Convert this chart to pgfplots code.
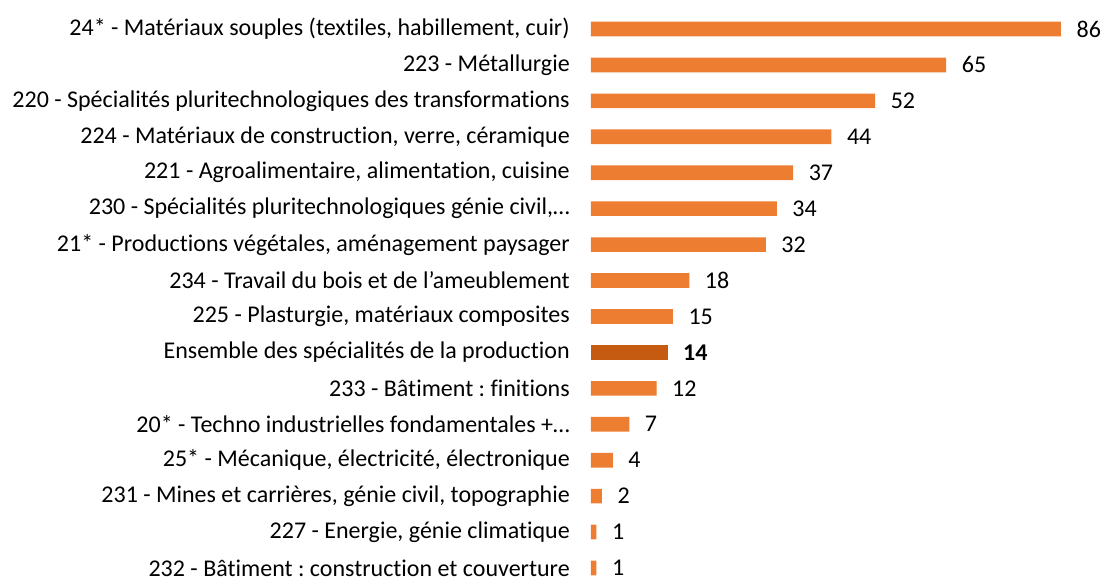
\documentclass[border=0pt]{standalone}
\usepackage{pgfplots}
\pgfplotsset{compat=1.18}
\usepackage{fontspec}
\setmainfont[Ligatures={NoCommon}]{Carlito}
\definecolor{barorange}{HTML}{ED7D31}
\definecolor{bardark}{HTML}{C55A11}
\frenchspacing
\begin{document}
\fontsize{18pt}{21pt}\selectfont
\begin{tikzpicture}
\begin{axis}[
  name=ax,
  scale only axis,
  width=352.5pt, height=432.75pt,
  xbar, bar shift=0pt, bar width=11pt,
  xmin=0, xmax=86, ymin=-0.25, ymax=15.807,
  hide x axis,
  axis line style={draw=none},
  ytick={0,...,15},
  yticklabels={
    232 - Bâtiment : construction et couverture,
    227 - Energie{,} génie climatique,
    231 - Mines et carrières{,} génie civil{,} topographie,
    25* - Mécanique{,} électricité{,} électronique,
    20* - Techno industrielles fondamentales +…,
    233 - Bâtiment : finitions,
    Ensemble des spécialités de la production,
    225 - Plasturgie{,} matériaux composites,
    234 - Travail du bois et de l'ameublement,
    21* - Productions végétales{,} aménagement paysager,
    230 - Spécialités pluritechnologiques génie civil{,}…,
    221 - Agroalimentaire{,} alimentation{,} cuisine,
    224 - Matériaux de construction{,} verre{,} céramique,
    220 - Spécialités pluritechnologiques des transformations,
    223 - Métallurgie,
    24* - Matériaux souples (textiles{,} habillement{,} cuir)
  },
  y tick label style={anchor=east, inner sep=0pt, xshift=-15.75pt, font=\fontsize{18pt}{21pt}\selectfont\frenchspacing},
  major tick length=0pt,
  clip=false,
  /pgf/number format/assume math mode=true,
  nodes near coords,
  nodes near coords style={anchor=west, inner sep=0pt, xshift=11.5pt, font=\fontsize{18pt}{21pt}\selectfont},
]
\addplot[fill=barorange, draw=none] coordinates {
  (1,0) (1,1) (2,2) (4,3) (7,4) (12,5)
  (15,7) (18,8) (32,9) (34,10) (37,11) (44,12) (52,13) (65,14) (86,15)
};
\addplot[fill=bardark, draw=none, nodes near coords style={font=\fontsize{18pt}{21pt}\selectfont\bfseries}] coordinates {
  (14,6)
};
\end{axis}
\pgfresetboundingbox
\path ([xshift=-443.25pt]ax.south west) rectangle ([xshift=30.75pt]ax.north east);
\end{tikzpicture}
\end{document}
